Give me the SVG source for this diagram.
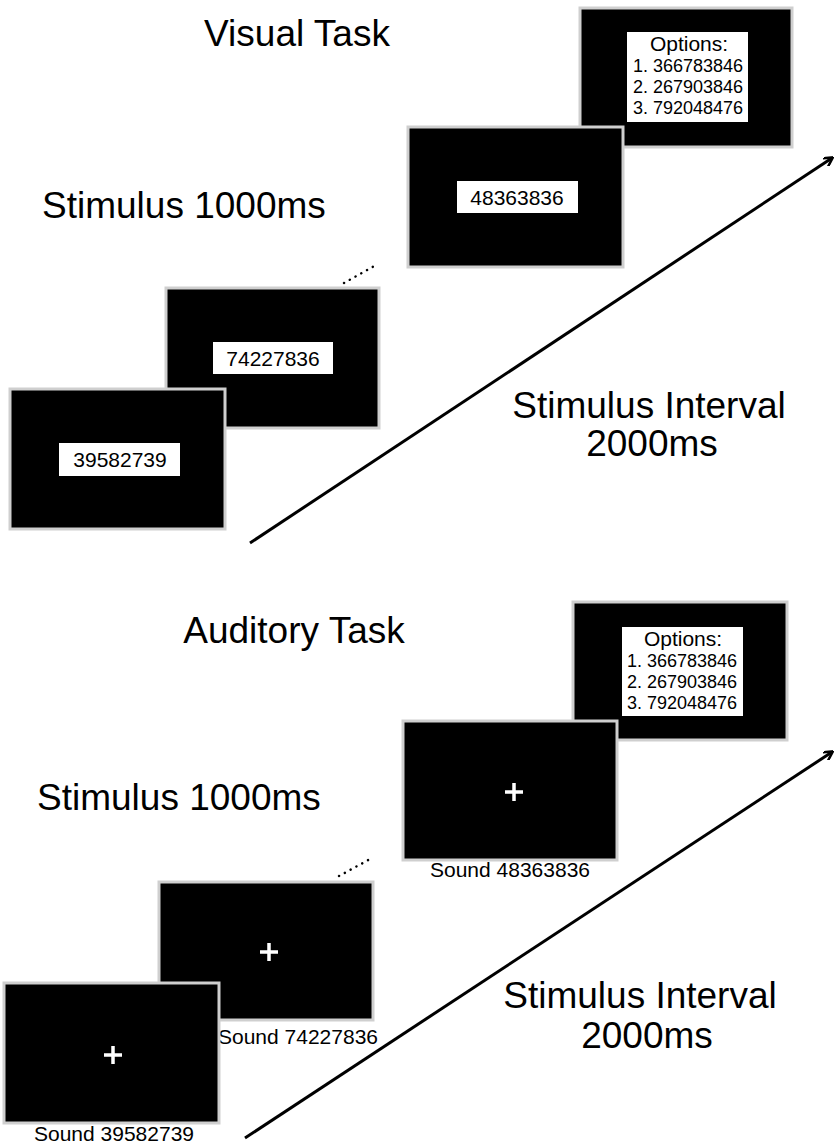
<svg xmlns="http://www.w3.org/2000/svg" width="834" height="1146" viewBox="0 0 834 1146">
<style>
.scr{fill:#000;stroke:#cfcfcf;stroke-width:3}
.box{fill:#fff}
.t{font-family:"Liberation Sans",Arial,sans-serif;fill:#000}
.big{font-size:37px}
.num{font-size:21px;text-anchor:middle}
.opt{font-size:18px;text-anchor:middle}
.oh{font-size:21px;text-anchor:middle}
.snd{font-size:21px;text-anchor:middle}
.plus{stroke:#fff;stroke-width:3.5}
.dots{stroke:#000;stroke-width:2.5;stroke-dasharray:0.1 6.5;stroke-linecap:round}
.axis{stroke:#000;stroke-width:3;fill:none}
</style>
<defs>
<marker id="ah" markerWidth="10" markerHeight="10" refX="8" refY="5" orient="auto" markerUnits="userSpaceOnUse" viewBox="0 0 10 10">
<path d="M0,0 L9,5 L0,10" fill="none" stroke="#000" stroke-width="2.5"/>
</marker>
</defs>
<g id="labels-top">
<text class="t big" x="297" y="46" text-anchor="middle">Visual Task</text>
<text class="t big" x="42" y="218">Stimulus 1000ms</text>
<text class="t big" x="649" y="418" text-anchor="middle">Stimulus Interval</text>
<text class="t big" x="652" y="456" text-anchor="middle">2000ms</text>
</g>
<g id="connectors">
<line class="axis" x1="250" y1="543" x2="832" y2="158" marker-end="url(#ah)"/>
<line class="axis" x1="245" y1="1138" x2="832" y2="752" marker-end="url(#ah)"/>
<line class="dots" x1="344" y1="283" x2="376" y2="265"/>
<line class="dots" x1="339" y1="876" x2="372" y2="858"/>
</g>
<g id="v-options">
<rect class="scr" x="580" y="8" width="212" height="139"/>
<rect class="box" x="627" y="32" width="121" height="90"/>
<text class="t oh" x="689" y="51">Options:</text>
<text class="t opt" x="688" y="72">1. 366783846</text>
<text class="t opt" x="688" y="93">2. 267903846</text>
<text class="t opt" x="688" y="114">3. 792048476</text>
</g>
<g id="v-screen3">
<rect class="scr" x="408" y="127" width="215" height="140"/>
<rect class="box" x="457" y="181" width="121" height="32"/>
<text class="t num" x="517" y="205">48363836</text>
</g>
<g id="v-screen2">
<rect class="scr" x="166" y="288" width="213" height="140"/>
<rect class="box" x="213" y="342" width="120" height="32"/>
<text class="t num" x="273" y="366">74227836</text>
</g>
<g id="v-screen1">
<rect class="scr" x="10" y="389" width="215" height="140"/>
<rect class="box" x="59" y="443" width="121" height="33"/>
<text class="t num" x="120" y="467">39582739</text>
</g>
<g id="labels-bottom">
<text class="t big" x="294" y="643" text-anchor="middle">Auditory Task</text>
<text class="t big" x="37" y="810">Stimulus 1000ms</text>
<text class="t big" x="640" y="1008" text-anchor="middle">Stimulus Interval</text>
<text class="t big" x="647" y="1048" text-anchor="middle">2000ms</text>
</g>
<g id="a-options">
<rect class="scr" x="573" y="602" width="214" height="138"/>
<rect class="box" x="622" y="627" width="121" height="89"/>
<text class="t oh" x="683" y="646">Options:</text>
<text class="t opt" x="682" y="667">1. 366783846</text>
<text class="t opt" x="682" y="688">2. 267903846</text>
<text class="t opt" x="682" y="709">3. 792048476</text>
</g>
<g id="a-screen3">
<rect class="scr" x="403" y="721" width="214" height="139"/>
<path class="plus" d="M505,792 H523 M514,783 V801"/>
<text class="t snd" x="510" y="877">Sound 48363836</text>
</g>
<g id="a-screen2">
<rect class="scr" x="159" y="882" width="214" height="138"/>
<path class="plus" d="M260,952 H278 M269,943 V961"/>
<text class="t snd" x="298" y="1044">Sound 74227836</text>
</g>
<g id="a-screen1">
<rect class="scr" x="4" y="983" width="215" height="140"/>
<path class="plus" d="M104,1055 H122 M113,1046 V1064"/>
<text class="t snd" x="114" y="1141">Sound 39582739</text>
</g>
</svg>
